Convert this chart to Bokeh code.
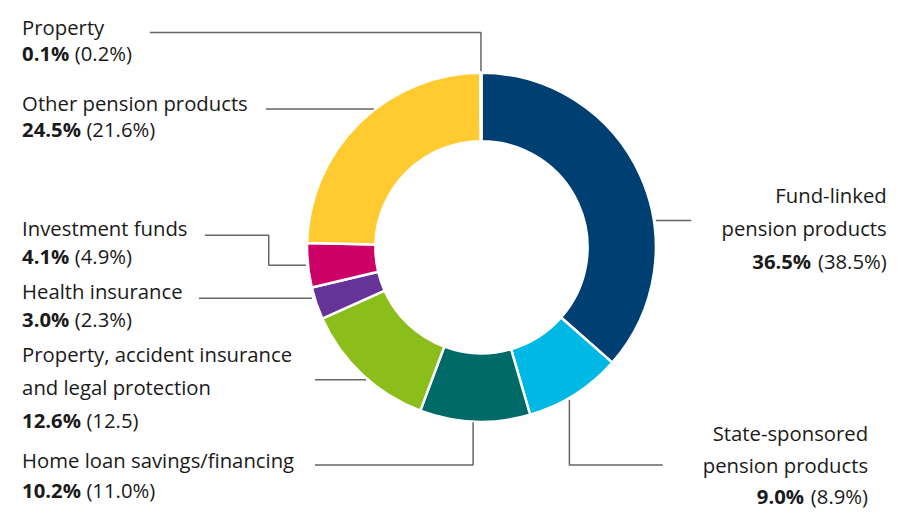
import math
from bokeh.plotting import figure
from bokeh.models import Range1d, ColumnDataSource
from bokeh.core.properties import value
from bokeh.embed import file_html
from bokeh.resources import INLINE

# ---------------- data ----------------
categories = ["Fund-linked pension products", "State-sponsored pension products",
              "Home loan savings/financing", "Property, accident insurance and legal protection",
              "Health insurance", "Investment funds", "Other pension products", "Property"]
shares = [36.5, 9.0, 10.2, 12.6, 3.0, 4.1, 24.5, 0.1]
previous = ["(38.5%)", "(8.9%)", "(11.0%)", "(12.5)", "(2.3%)", "(4.9%)", "(21.6%)", "(0.2%)"]
label_lines = [["Fund-linked", "pension products"],
               ["State-sponsored", "pension products"],
               ["Home loan savings/financing"],
               ["Property, accident insurance", "and legal protection"],
               ["Health insurance"],
               ["Investment funds"],
               ["Other pension products"],
               ["Property"]]
colors = ["#003F72", "#00B8E4", "#006A68", "#8BBE1A", "#663399", "#CC0066", "#FFCB31", "#D9C2CC"]

# ---------------- layout (reference px, top-left origin) ----------------
W, H = 901, 511
RW, RH = 917, 527
SX = W / RW
def sy(y):
    return RH - y

CX, CY = 489.5, 254.5
R_IN, R_OUT = 108, 177.5
FONT = "Open Sans"
FS = 20.3

# text anchor, alignment, baselines of name lines + value line
text_layout = [
    (902, "right", [201, 235], 269),
    (883, "right", [446, 479], 511),
    (22, "left", [474], 505),
    (22, "left", [365, 399], 433),
    (22, "left", [300], 328),
    (22, "left", [235], 263),
    (22, "left", [106], 133),
    (22, "left", [27], 54),
]
leaders = [
    [(667, 227), (703, 227)],
    [(579, 412), (579, 479), (674, 479)],
    [(481, 435), (481, 479), (320, 479)],
    [(372, 391), (320, 391)],
    [(317, 307), (202, 307)],
    [(311, 273), (273, 273), (273, 242), (208, 242)],
    [(380, 112), (270, 112)],
    [(489, 73), (489, 33), (152, 33)],
]

REG = {"(": 0.31, ")": 0.31, ".": 0.27, "%": 0.86, " ": 0.26}
BOLD = {".": 0.29, "%": 0.90, " ": 0.26}
def tw(s, table):
    # width in reference px
    return sum(table.get(c, 0.572) for c in s) * FS / SX

p = figure(width=W, height=H, output_backend="svg", toolbar_location=None,
           x_range=Range1d(0, RW), y_range=Range1d(0, RH),
           x_axis_location=None, y_axis_location=None, min_border=0,
           background_fill_color="white", border_fill_color="white")
p.outline_line_color = None
p.grid.visible = False

# wedges
starts, ends = [], []
cum = 0.0
for s in shares:
    starts.append(math.pi / 2 - 2 * math.pi * cum / 100)
    cum += s
    ends.append(math.pi / 2 - 2 * math.pi * cum / 100)
wsrc = ColumnDataSource(dict(x=[CX] * len(shares), y=[sy(CY)] * len(shares),
                             start=starts, end=ends, color=colors))
p.annular_wedge(x="x", y="y", inner_radius=R_IN, outer_radius=R_OUT,
                start_angle="start", end_angle="end", direction="clock",
                fill_color="color", line_color="white", line_width=2.5, source=wsrc)

# leader lines
p.multi_line(xs=[[pt[0] for pt in L] for L in leaders],
             ys=[[sy(pt[1]) for pt in L] for L in leaders],
             line_color="#666666", line_width=1.5)

# texts
for align in ("left", "right"):
    nx, ny, nt = [], [], []
    bx, by, bt = [], [], []
    px_, py_, pt_ = [], [], []
    for i, (ax, al, bls, vb) in enumerate(text_layout):
        if al != align:
            continue
        for line, b in zip(label_lines[i], bls):
            nx.append(ax); ny.append(sy(b)); nt.append(line)
        vtxt = f"{shares[i]:.1f}%"
        ptxt = previous[i]
        if align == "left":
            bx.append(ax)
            px_.append(ax + tw(vtxt, BOLD) + tw(" ", REG))
        else:
            px_.append(ax)
            bx.append(ax - tw(ptxt, REG) - tw(" ", REG))
        by.append(sy(vb)); bt.append(vtxt)
        py_.append(sy(vb)); pt_.append(ptxt)
    common = dict(text_font=value(FONT), text_font_size=f"{FS}px",
                  text_baseline="alphabetic", text_color="#1a1a1a")
    p.text(x=nx, y=ny, text=nt, text_align=align, **common)
    p.text(x=bx, y=by, text=bt, text_align=align, text_font_style="bold", **common)
    p.text(x=px_, y=py_, text=pt_, text_align=align, **common)

open("out.html", "w").write(file_html(p, INLINE))
